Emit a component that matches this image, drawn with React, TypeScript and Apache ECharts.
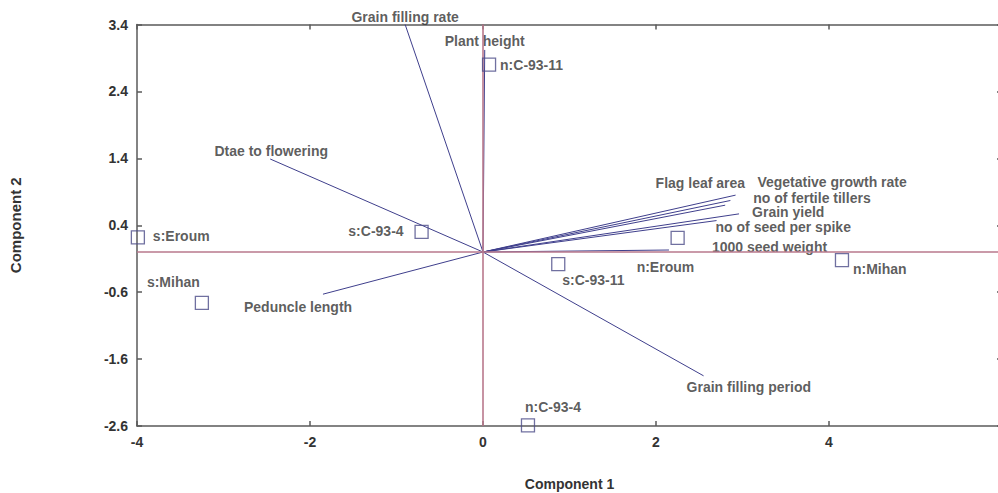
import React, { useEffect, useRef } from "react";
import * as echarts from "echarts";

// Loading vectors (variables)
const vectorNames = [
  "Grain filling rate",
  "Plant height",
  "Dtae to flowering",
  "Peduncle length",
  "Grain filling period",
  "Flag leaf area",
  "Vegetative growth rate",
  "no of fertile tillers",
  "Grain yield",
  "no of seed per spike",
  "1000 seed weight",
];
const vectorX = [-0.9, 0.02, -2.46, -1.85, 2.55, 2.92, 2.86, 2.8, 2.96, 2.7, 2.15];
const vectorY = [3.4, 3.02, 1.39, -0.63, -1.85, 0.85, 0.77, 0.7, 0.57, 0.47, 0.03];

// Samples (scores)
const sampleNames = ["n:C-93-11", "s:C-93-4", "s:Eroum", "s:Mihan", "s:C-93-11", "n:Eroum", "n:Mihan", "n:C-93-4"];
const sampleX = [0.07, -0.71, -3.99, -3.25, 0.87, 2.25, 4.15, 0.52];
const sampleY = [2.8, 0.3, 0.22, -0.76, -0.18, 0.21, -0.12, -2.59];

// Axis settings
const xMin = -4;
const xMax = 6;
const xStep = 2;
const yMin = -2.6;
const yMax = 3.4;
const yStep = 1;

// Label placement (pixel offsets, styles only)
const vectorLabelLayout: [number, number, string][] = [
  [0, -8, "center"],
  [0, -9, "center"],
  [1, -8, "center"],
  [-79, 13, "left"],
  [-17, 11, "left"],
  [-80, -12, "left"],
  [27, -18.5, "left"],
  [28, -7.5, "left"],
  [13, -2, "left"],
  [-1, 6, "left"],
  [43, -3, "left"],
];
const sampleLabelLayout: [number, number, string][] = [
  [11, 0, "left"],
  [-18, -1, "right"],
  [15, -1, "left"],
  [-55, -21, "left"],
  [4, 16, "left"],
  [-41, 29, "left"],
  [11, 9, "left"],
  [-3, -18, "left"],
];

const FONT = "'Liberation Sans', Arial, sans-serif";
const TEXT = "#333";
const AXIS = "#5a5a5a";
const REF = "#b9788c";
const VEC = "#3f3f8c";
const MARK = "#4c4c88";

export default function App() {
  const ref = useRef<HTMLDivElement>(null);
  useEffect(() => {
    if (!ref.current) return;
    const chart = echarts.init(ref.current, undefined, { renderer: "svg" });

    const vectorSeries = vectorNames.map((n, i) => ({
      type: "line",
      name: n,
      data: [
        [0, 0],
        [vectorX[i], vectorY[i]],
      ],
      showSymbol: false,
      symbol: "none",
      lineStyle: { color: VEC, width: 1 },
      z: 2,
      silent: true,
    }));

    const labelStyle = (l: [number, number, string]) => ({
      show: true,
      position: "inside",
      align: l[2],
      verticalAlign: "middle",
      offset: [l[0], l[1]],
      color: TEXT,
      fontFamily: FONT,
      fontWeight: "bold",
      fontSize: 14,
    });

    const axisLabelStyle = {
      color: TEXT,
      fontFamily: FONT,
      fontWeight: "bold",
      fontSize: 14,
    };

    const option = {
      animation: false,
      backgroundColor: "#fff",
      grid: {
        left: 137,
        top: 24.5,
        right: -4,
        bottom: 67,
        containLabel: false,
        outerBoundsMode: "none",
      },
      xAxis: [
        {
          type: "value",
          position: "bottom",
          min: xMin,
          max: xMax,
          interval: xStep,
          splitLine: { show: false },
          axisLine: { show: true, onZero: false, lineStyle: { color: AXIS, width: 1.5 } },
          axisTick: { show: true, inside: true, length: 5, lineStyle: { color: AXIS, width: 1.5 } },
          axisLabel: { ...axisLabelStyle, margin: 9 },
          name: "Component 1",
          nameLocation: "middle",
          nameGap: 51,
          nameTextStyle: { ...axisLabelStyle, fontSize: 14 },
        },
        {
          type: "value",
          position: "top",
          min: xMin,
          max: xMax,
          interval: xStep,
          splitLine: { show: false },
          axisLine: { show: true, onZero: false, lineStyle: { color: AXIS, width: 1.5 } },
          axisTick: { show: true, inside: true, length: 5, lineStyle: { color: AXIS, width: 1.5 } },
          axisLabel: { show: false },
        },
      ],
      yAxis: [
        {
          type: "value",
          position: "left",
          min: yMin,
          max: yMax,
          interval: yStep,
          splitLine: { show: false },
          axisLine: { show: true, onZero: false, lineStyle: { color: AXIS, width: 1.5 } },
          axisTick: { show: true, inside: true, length: 5, lineStyle: { color: AXIS, width: 1.5 } },
          axisLabel: { ...axisLabelStyle, margin: 9, formatter: (v: number) => v.toFixed(1) },
          name: "Component 2",
          nameLocation: "middle",
          nameRotate: 90,
          nameGap: 114,
          nameTextStyle: { ...axisLabelStyle, fontSize: 15 },
        },
        {
          type: "value",
          position: "right",
          min: yMin,
          max: yMax,
          interval: yStep,
          splitLine: { show: false },
          axisLine: { show: true, onZero: false, lineStyle: { color: AXIS, width: 1.5 } },
          axisTick: { show: true, inside: true, length: 5, lineStyle: { color: AXIS, width: 1.5 } },
          axisLabel: { show: false },
        },
      ],
      series: [
        ...vectorSeries,
        {
          type: "line",
          name: "ref",
          data: [],
          silent: true,
          z: 3,
          markLine: {
            silent: true,
            symbol: "none",
            label: { show: false },
            lineStyle: { color: REF, width: 1.6, type: "solid" },
            data: [{ xAxis: 0 }, { yAxis: 0 }],
          },
        },
        {
          type: "scatter",
          name: "vector labels",
          symbolSize: 1,
          itemStyle: { color: "transparent" },
          silent: true,
          z: 4,
          data: vectorNames.map((n, i) => ({
            name: n,
            value: [vectorX[i], vectorY[i]],
            label: { ...labelStyle(vectorLabelLayout[i]), formatter: n },
          })),
        },
        {
          type: "scatter",
          name: "samples",
          symbol: "rect",
          symbolSize: 13,
          silent: true,
          z: 5,
          itemStyle: { color: "rgba(255,255,255,0)", borderColor: MARK, borderWidth: 1.3 },
          data: sampleNames.map((n, i) => ({
            name: n,
            value: [sampleX[i], sampleY[i]],
            label: { ...labelStyle(sampleLabelLayout[i]), formatter: n },
          })),
        },
      ],
    };

    chart.setOption(option as any);
    return () => chart.dispose();
  }, []);

  return (
    <div
      ref={ref}
      style={{ position: "absolute", left: 0, top: 0, width: 998, height: 493, background: "#fff" }}
    />
  );
}
